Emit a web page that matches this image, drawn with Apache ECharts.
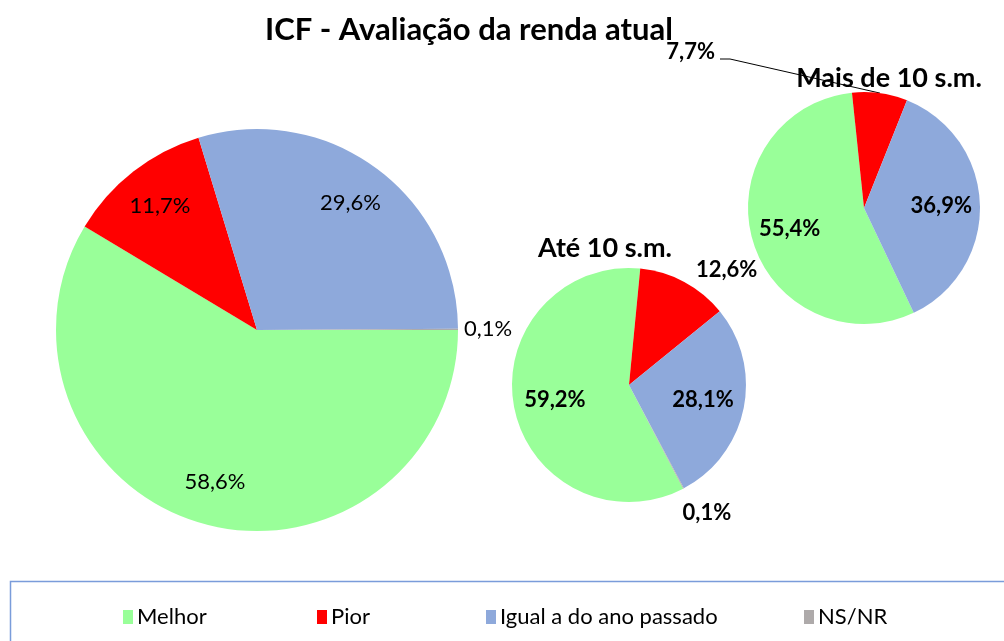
<!DOCTYPE html>
<html>
<head>
<meta charset="utf-8">
<script src="https://cdn.jsdelivr.net/npm/echarts@6/dist/echarts.min.js"></script>
<style>
html, body { margin: 0; padding: 0; background: #fff; }
#chart { width: 1004px; height: 641px; }
</style>
</head>
<body>
<div id="chart"></div>
<script>
// dados
const categories = ['Melhor', 'Pior', 'Igual a do ano passado', 'NS/NR'];
const colors = ['#99FF99', '#FF0000', '#8EA9DB', '#AEAAAA'];
const geral = [58.6, 11.7, 29.6, 0.1];
const ate10 = [59.2, 12.6, 28.1, 0.1];
const mais10 = [55.4, 7.7, 36.9, 0];
const subtitles = ['Até 10 s.m.', 'Mais de 10 s.m.'];

const FONT = 'Lato';
const fmt = v => v.toFixed(1).replace('.', ',') + '%';

// configuração de cada pizza
const pies = [
    { values: geral, center: [257, 330], r: 201, start: 0, bold: false, inner: [0, 1, 2], innerFactor: 1.54,
      outer: { 3: { length: 1, length2: 0 } } },
    { values: ate10, center: [629, 385], r: 117, start: 297.6, bold: true, inner: [0, 2], innerFactor: 1.24,
      outer: { 1: { length: 14, length2: 0 }, 3: { length: 28, length2: -19 } } },
    { values: mais10, center: [864, 208], r: 116, start: 295.4, bold: true, inner: [0, 2], innerFactor: 1.28,
      outer: { 1: { length: 10, length2: 10, line: true } } }
];

const labelFont = p => ({ fontFamily: FONT, fontSize: 22, fontWeight: p.bold ? 'bold' : 'normal', color: '#000' });

const series = [];
// pizzas visíveis (rótulos externos)
pies.forEach((p, pi) => {
    series.push({
        type: 'pie',
        center: p.center,
        radius: [0, p.r],
        startAngle: p.start,
        clockwise: true,
        avoidLabelOverlap: false,
        animation: false,
        itemStyle: { borderWidth: 0 },
        emphasis: { disabled: true },
        labelLayout: pi === 2 ? function (lp) {
            if (lp.dataIndex !== 1) return {};
            const pts = lp.labelLinePoints;
            const x = 715, y = 52;
            return {
                x: x, y: y, align: 'right', verticalAlign: 'middle',
                labelLinePoints: [pts[0], [x + 15, y + 7], [x + 5, y + 7]]
            };
        } : undefined,
        data: p.values.map((v, i) => {
            const o = p.outer[i];
            return {
                name: categories[i],
                value: v,
                itemStyle: { color: colors[i] },
                label: o ? Object.assign({ show: true, position: 'outside', formatter: fmt(v) }, labelFont(p))
                         : { show: false },
                labelLine: o ? { show: !!o.line, length: o.length, length2: o.length2, smooth: false,
                                 lineStyle: { color: '#000', width: 1 } }
                             : { show: false }
            };
        })
    });
});
// camada transparente só para posicionar rótulos internos
pies.forEach(p => {
    series.push({
        type: 'pie',
        center: p.center,
        radius: [0, p.r * p.innerFactor],
        startAngle: p.start,
        clockwise: true,
        silent: true,
        animation: false,
        avoidLabelOverlap: false,
        itemStyle: { color: 'rgba(0,0,0,0)', borderWidth: 0 },
        labelLine: { show: false },
        data: p.values.map((v, i) => ({
            name: categories[i],
            value: v,
            label: p.inner.includes(i)
                ? Object.assign({ show: true, position: 'inside', formatter: fmt(v) }, labelFont(p))
                : { show: false }
        }))
    });
});

const legendLeft = [118, 312, 481, 799];

const chart = echarts.init(document.getElementById('chart'));
chart.setOption({
    animation: false,
    title: [
        { text: 'ICF - Avaliação da renda atual', left: 464, top: 9, textAlign: 'center',
          textStyle: { fontFamily: FONT, fontSize: 31, fontWeight: 'bold', color: '#000' } },
        { text: subtitles[0], left: 600, top: 230, textAlign: 'center',
          textStyle: { fontFamily: FONT, fontSize: 27, fontWeight: 'bold', color: '#000' } },
        { text: subtitles[1], left: 884, top: 60, textAlign: 'center',
          textStyle: { fontFamily: FONT, fontSize: 27, fontWeight: 'bold', color: '#000' } }
    ],
    legend: categories.map((c, i) => ({
        data: [{ name: c, itemStyle: { color: colors[i] } }],
        left: legendLeft[i],
        top: 601,
        icon: 'rect',
        itemWidth: 10,
        itemHeight: 14,
        itemGap: 5,
        selectedMode: false,
        textStyle: { fontFamily: FONT, fontSize: 22, color: '#000', padding: [0, 0, 0, -1] }
    })),
    graphic: [{
        type: 'rect',
        shape: { x: 10.5, y: 581.5, width: 1010, height: 100 },
        style: { fill: 'none', stroke: '#7A9CDA', lineWidth: 1.5 },
        silent: true
    }],
    series: series
});
</script>
</body>
</html>
